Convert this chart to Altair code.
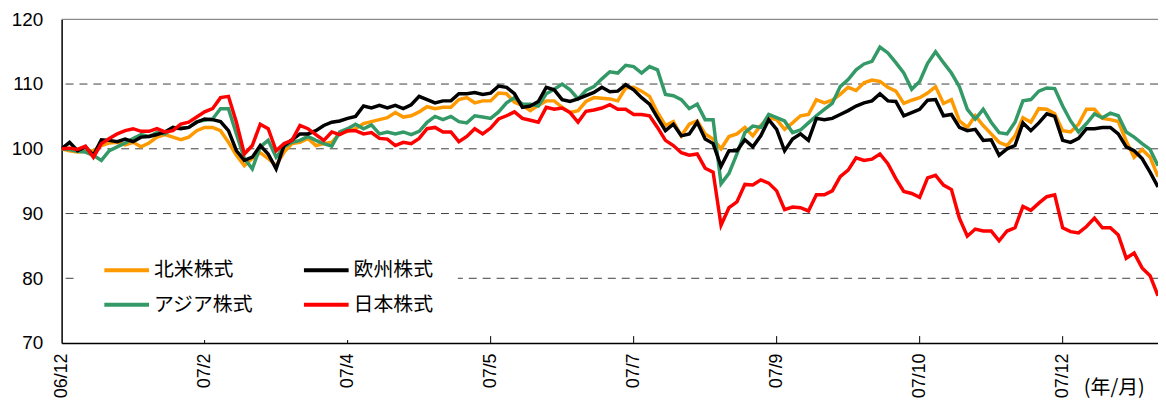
import altair as alt
import pandas as pd

# ---- data (index = trading-period step, 0 = 06/12 start) ----
t_index = list(range(139))

north_america = [
    100.0, 99.7, 99.5, 99.6, 99.7, 100.5, 100.9, 101.0, 100.6, 101.0,
    100.3, 100.9, 101.8, 102.2, 101.8, 101.4, 101.8, 102.8, 103.3, 103.3,
    102.8, 101.0, 99.0, 97.4, 98.5, 99.4, 98.5, 97.4, 99.5, 100.8,
    101.0, 101.6, 100.5, 100.8, 101.0, 102.4, 102.7, 103.1, 103.9, 104.2,
    104.5, 104.8, 105.6, 104.9, 105.1, 105.7, 106.5, 106.2, 106.4, 106.4,
    107.6, 107.9, 107.1, 107.4, 107.4, 108.6, 108.5, 107.2, 106.7, 105.9,
    106.7, 107.4, 107.4, 106.4, 105.6, 105.9, 107.3, 107.9, 107.8, 107.7,
    107.4, 109.4, 109.5, 108.9, 108.1, 105.6, 103.6, 104.2, 102.0, 103.8,
    104.3, 102.3, 101.5, 100.0, 101.9, 102.3, 103.3, 102.0, 103.6, 104.8,
    104.5, 103.0, 104.0, 105.1, 105.3, 107.6, 107.1, 107.5, 108.4, 109.5,
    109.0, 110.2, 110.6, 110.4, 109.5, 108.9, 107.0, 107.5, 107.9, 108.6,
    109.6, 107.0, 107.6, 104.3, 103.3, 105.1, 103.6, 102.3, 101.0, 100.5,
    102.0, 104.8, 104.1, 106.2, 106.1, 105.4, 102.8, 102.6, 103.8, 106.1,
    106.1, 104.7, 104.5, 104.2, 101.2, 98.7, 99.9, 98.7, 95.7,
]

europe = [
    100.0, 101.0, 99.7, 100.3, 99.0, 101.4, 101.3, 101.1, 101.5, 101.1,
    101.8, 101.9, 102.2, 102.6, 103.3, 103.1, 103.3, 104.1, 104.6, 104.5,
    104.2, 102.8, 99.7, 98.2, 98.7, 100.5, 99.2, 96.9, 100.5, 101.4,
    102.3, 102.3, 102.8, 103.6, 104.1, 104.3, 104.7, 105.0, 106.6, 106.3,
    106.7, 106.3, 106.7, 106.2, 106.8, 108.1, 107.6, 107.1, 107.4, 107.4,
    108.5, 108.5, 108.7, 108.4, 108.6, 109.7, 109.5, 108.5, 106.4, 106.6,
    107.3, 109.5, 109.1, 107.6, 107.3, 107.7, 108.2, 108.7, 109.5, 108.8,
    108.9, 109.9, 109.1, 107.9, 106.9, 104.8, 102.8, 103.8, 102.0, 102.3,
    104.1, 101.5, 100.8, 97.3, 99.7, 99.7, 101.4, 100.3, 102.0, 104.5,
    103.0, 99.7, 101.5, 102.3, 101.3, 104.7, 104.5, 104.7, 105.3, 105.9,
    106.6, 107.1, 107.4, 108.5, 107.4, 107.3, 105.1, 105.6, 106.1, 107.5,
    107.6, 105.1, 105.3, 103.3, 102.8, 103.0, 101.3, 101.4, 99.0, 100.0,
    100.5, 104.0, 102.8, 104.0, 105.4, 105.0, 101.3, 101.0, 101.6, 103.1,
    103.1, 103.3, 103.3, 102.3, 100.3, 99.7, 98.5, 96.4, 94.1,
]

asia = [
    100.0, 99.9, 99.6, 99.5, 99.0, 98.2, 99.7, 100.3, 100.9, 101.6,
    102.2, 101.9, 102.5, 102.3, 103.1, 103.2, 103.3, 104.2, 104.4, 104.6,
    106.2, 106.2, 102.3, 98.5, 96.9, 100.3, 101.3, 98.7, 100.3, 101.0,
    101.3, 101.9, 101.3, 100.8, 100.4, 102.6, 103.1, 103.8, 103.1, 103.7,
    102.3, 102.6, 102.3, 102.6, 102.2, 102.7, 104.1, 105.0, 104.5, 105.0,
    104.2, 104.0, 105.1, 104.9, 104.7, 105.7, 107.1, 107.9, 106.9, 106.9,
    106.6, 108.5, 109.2, 110.0, 109.1, 107.7, 109.0, 109.6, 110.8, 111.9,
    111.7, 112.9, 112.7, 111.7, 112.7, 112.2, 108.4, 108.2, 107.6, 106.2,
    106.9, 104.5, 104.5, 94.6, 96.2, 99.2, 102.5, 103.5, 103.3, 105.3,
    104.8, 104.3, 102.5, 102.9, 104.0, 105.1, 106.1, 107.0, 109.6, 110.7,
    112.2, 113.1, 113.5, 115.7, 114.8, 113.3, 111.7, 109.2, 110.4, 113.2,
    115.0, 113.3, 111.7, 109.6, 106.1, 104.6, 106.1, 104.1, 102.5, 102.3,
    104.1, 107.4, 107.6, 108.9, 109.4, 109.3, 106.6, 104.3, 102.6, 103.9,
    105.4, 104.8, 105.5, 105.1, 102.6, 101.8, 100.8, 99.9, 97.4,
]

japan = [
    100.0, 100.1, 99.9, 100.4, 98.7, 100.8, 101.6, 102.3, 102.8, 103.1,
    102.7, 102.7, 103.1, 102.6, 102.8, 103.8, 104.1, 104.9, 105.7, 106.2,
    107.9, 108.1, 104.1, 99.2, 100.5, 103.8, 103.1, 99.7, 100.8, 101.3,
    103.6, 103.1, 102.2, 101.3, 102.6, 102.2, 102.8, 102.8, 102.3, 102.5,
    101.6, 101.5, 100.5, 101.0, 100.8, 101.6, 103.1, 103.3, 102.6, 102.6,
    101.1, 101.9, 103.1, 102.3, 103.2, 104.6, 105.1, 105.7, 104.7, 104.4,
    104.1, 106.4, 106.1, 106.3, 105.6, 104.1, 105.8, 106.0, 106.3, 106.8,
    106.1, 106.1, 105.3, 105.3, 105.1, 103.3, 101.3, 100.5, 99.4, 99.0,
    99.2, 97.0, 96.4, 88.2, 90.9, 91.8, 94.5, 94.4, 95.2, 94.7,
    93.5, 90.6, 91.0, 90.9, 90.4, 92.9, 92.9, 93.5, 95.7, 96.7,
    98.6, 98.2, 98.4, 99.2, 97.7, 95.4, 93.4, 93.1, 92.5, 95.5,
    95.9, 94.4, 93.7, 89.3, 86.5, 87.6, 87.3, 87.3, 85.8, 87.3,
    87.8, 91.1, 90.5, 91.6, 92.6, 92.9, 87.8, 87.2, 87.0, 88.0,
    89.3, 87.8, 87.8, 86.7, 83.1, 83.9, 81.6, 80.4, 77.3,
]

series_names = ["北米株式", "欧州株式", "アジア株式", "日本株式"]
series_colors = ["#FF9900", "#000000", "#339966", "#FF0000"]

tick_pos = [0, 18, 36, 54, 72, 90, 108, 126]
tick_labels = ["06/12", "07/2", "07/4", "07/5", "07/7", "07/9", "07/10", "07/12"]
y_ticks = [70, 80, 90, 100, 110, 120]
grid_vals = [80, 90, 100, 110]
unit_label = ["(年/月)"]

# ---- tables ----
draw_order = [("北米株式", north_america), ("アジア株式", asia),
              ("欧州株式", europe), ("日本株式", japan)]
rows = []
for name, vals in draw_order:
    for t, v in zip(t_index, vals):
        rows.append({"t": t, "v": v, "s": name})
df = pd.DataFrame(rows)

label_expr = ""
for p, l in zip(tick_pos, tick_labels):
    label_expr += f"datum.value == {p} ? '{l}' : "
label_expr += "''"

x_scale = alt.Scale(domain=[0, 138], nice=False, zero=False)
y_scale = alt.Scale(domain=[70, 120], nice=False, zero=False)

x_axis = alt.Axis(values=tick_pos, labelExpr=label_expr, labelAngle=270,
                  labelFontSize=18, labelFont="Liberation Sans",
                  labelColor="black", domainColor="black", domainWidth=1.5,
                  ticks=False, grid=False, title=None, labelPadding=10)
y_axis = alt.Axis(values=y_ticks, labelFontSize=19, labelFont="Liberation Sans",
                  labelColor="black", domainColor="black", domainWidth=1.5,
                  ticks=False, grid=False, title=None, labelPadding=19)

W, H = 1104, 326

grid = alt.Chart(pd.DataFrame({"g": grid_vals})).mark_rule(
    strokeDash=[8, 6], color="#404040", strokeWidth=1
).encode(y=alt.Y("g:Q", scale=y_scale, axis=y_axis))

top = alt.Chart(pd.DataFrame({"g": [120]})).mark_rule(
    color="#8a8a8a", strokeWidth=1.2
).encode(y=alt.Y("g:Q", scale=y_scale, axis=y_axis))

ticks = alt.Chart(pd.DataFrame({"p": tick_pos[1:]})).mark_rule(
    color="black", strokeWidth=1
).encode(x=alt.X("p:Q", scale=x_scale, axis=x_axis),
         y=alt.value(H), y2=alt.value(H - 7))

lines = alt.Chart(df).mark_line(strokeWidth=3.5, clip=True).encode(
    x=alt.X("t:Q", scale=x_scale, axis=x_axis),
    y=alt.Y("v:Q", scale=y_scale, axis=y_axis),
    color=alt.Color("s:N", scale=alt.Scale(domain=series_names, range=series_colors),
                    legend=alt.Legend(orient="none", legendX=16, legendY=203,
                                      columns=2, direction="horizontal", title=None,
                                      symbolType="stroke",
                                      symbolSize=2025, symbolStrokeWidth=4,
                                      labelFontSize=20, labelFont="Noto Sans CJK JP",
                                      labelColor="black", labelOffset=3,
                                      columnPadding=43, rowPadding=-5,
                                      fillColor="white", padding=25,
                                      labelLimit=300)),
)

unit = alt.Chart(pd.DataFrame({"u": unit_label})).mark_text(
    fontSize=20, font="Noto Sans CJK JP", color="black", align="center", baseline="middle"
).encode(text="u:N", x=alt.value(1060), y=alt.value(371))

chart = alt.layer(grid, top, ticks, lines, unit).properties(
    width=W, height=H,
    autosize=alt.AutoSizeParams(type="none"),
    padding={"left": 54, "top": 10, "right": 0, "bottom": 58},
).configure_view(stroke=None)

chart.save("out.html", embed_options={"renderer": "svg", "actions": False})
